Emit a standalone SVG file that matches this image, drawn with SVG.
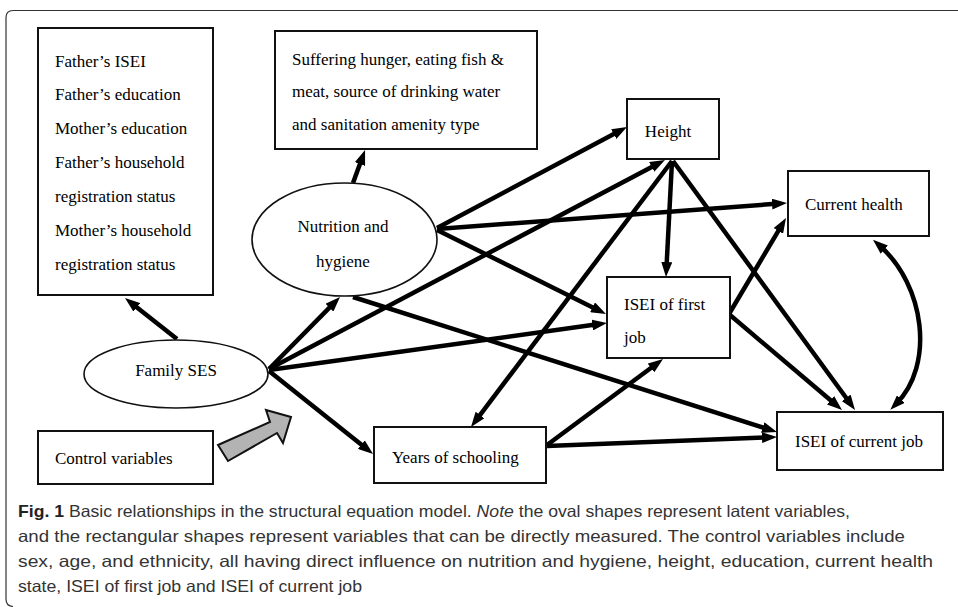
<svg xmlns="http://www.w3.org/2000/svg" width="958" height="607" viewBox="0 0 958 607">
<style>
.bg{fill:#ffffff}
.frame{fill:none;stroke:#333;stroke-width:1.2}
.box{fill:#fff;stroke:#111;stroke-width:2}
.oval{fill:#fff;stroke:#111;stroke-width:1.6}
.t{font-family:"Liberation Serif","Times New Roman",serif;font-size:17px;fill:#000}
.c{text-anchor:middle}
.cap{font-family:"Liberation Sans Narrow","Liberation Sans",Arial,sans-serif;font-size:16.5px;fill:#333}
.conn{fill:none;stroke:#000;stroke-width:4.5;marker-end:url(#ah)}
</style>
<defs>
<marker id="ah" viewBox="0 0 15 11" markerWidth="15" markerHeight="11" refX="7" refY="5.5" orient="auto-start-reverse" markerUnits="userSpaceOnUse">
<path d="M0,0 L15,5.5 L0,11 z" fill="#000"/>
</marker>
</defs>
<rect class="bg" x="0" y="0" width="958" height="607"/>
<path class="frame" d="M958 10.5 H13 Q6 10.5 6 17.5 V599 Q6 606 13 606.5"/>

<g id="connectors">
<line class="conn" x1="177" y1="339" x2="131.3" y2="303"/>
<line class="conn" x1="353" y1="183" x2="362.3" y2="157.5"/>
<line class="conn" x1="269" y1="369" x2="334.4" y2="302.7"/>
<line class="conn" x1="269" y1="369" x2="657.9" y2="163.7"/>
<line class="conn" x1="269" y1="370" x2="599.1" y2="324.1"/>
<line class="conn" x1="269" y1="371" x2="366.8" y2="449"/>
<line class="conn" x1="437" y1="228" x2="619.9" y2="130.8"/>
<line class="conn" x1="437" y1="229" x2="779" y2="203.6"/>
<line class="conn" x1="437" y1="230" x2="598.8" y2="310.4"/>
<line class="conn" x1="353" y1="297" x2="769.4" y2="429.6"/>
<line class="conn" x1="672" y1="161" x2="666.4" y2="269"/>
<line class="conn" x1="672" y1="161" x2="475.8" y2="420.6"/>
<line class="conn" x1="673" y1="161" x2="850.3" y2="403.5"/>
<line class="conn" x1="729" y1="314" x2="781.9" y2="224.9"/>
<line class="conn" x1="730" y1="315" x2="835.9" y2="404.8"/>
<line class="conn" x1="547" y1="445" x2="656.6" y2="363.8"/>
<line class="conn" x1="547" y1="446" x2="769" y2="437.3"/>
<path class="conn" d="M879 245 C925 285 935 365 896 404" style="marker-start:url(#ah)"/>
<polygon points="218,445 270,422 266,410 291,417 283,443 277,433 228,461" fill="#b3b3b3" stroke="#111" stroke-width="2" stroke-linejoin="miter"/>
</g>

<g id="parents-box" font-family="Liberation Serif, serif">
<rect class="box" x="38" y="28" width="175" height="267"/>
<text class="t" x="55" y="67">Father’s ISEI</text>
<text class="t" x="55" y="100">Father’s education</text>
<text class="t" x="55" y="134">Mother’s education</text>
<text class="t" x="55" y="168">Father’s household</text>
<text class="t" x="55" y="202">registration status</text>
<text class="t" x="55" y="236">Mother’s household</text>
<text class="t" x="55" y="270">registration status</text>
</g>

<g id="nutrition-box">
<rect class="box" x="275" y="31" width="262" height="118"/>
<text class="t" x="292" y="65">Suffering hunger, eating fish &amp;</text>
<text class="t" x="292" y="97">meat, source of drinking water</text>
<text class="t" x="292" y="130">and sanitation amenity type</text>
</g>

<g id="nutrition">
<ellipse class="oval" cx="344.5" cy="239.5" rx="92.5" ry="56.5"/>
<text class="t c" x="343" y="232">Nutrition and</text>
<text class="t c" x="343" y="267">hygiene</text>
</g>

<g id="family-ses">
<ellipse class="oval" cx="176" cy="374" rx="92" ry="34"/>
<text class="t c" x="176" y="376">Family SES</text>
</g>

<g id="control">
<rect class="box" x="38" y="431" width="175" height="53"/>
<text class="t" x="55" y="464">Control variables</text>
</g>

<g id="height">
<rect class="box" x="627" y="99" width="92" height="60"/>
<text class="t c" x="668" y="137">Height</text>
</g>

<g id="current-health">
<rect class="box" x="788" y="171" width="141" height="65"/>
<text class="t" x="805" y="210">Current health</text>
</g>

<g id="isei-first">
<rect class="box" x="607" y="277" width="123" height="81"/>
<text class="t" x="624" y="310">ISEI of first</text>
<text class="t" x="624" y="343">job</text>
</g>

<g id="years">
<rect class="box" x="374" y="427" width="172" height="56"/>
<text class="t" x="392" y="463">Years of schooling</text>
</g>

<g id="isei-current">
<rect class="box" x="777" y="412" width="166" height="58"/>
<text class="t" x="795" y="447">ISEI of current job</text>
</g>

<g id="caption">
<text class="cap" x="18" y="517" textLength="832" lengthAdjust="spacingAndGlyphs"><tspan font-weight="bold" fill="#222">Fig. 1</tspan>  Basic relationships in the structural equation model. <tspan font-style="italic">Note</tspan> the oval shapes represent latent variables,</text>
<text class="cap" x="18" y="542" textLength="887" lengthAdjust="spacingAndGlyphs">and the rectangular shapes represent variables that can be directly measured. The control variables include</text>
<text class="cap" x="18" y="567" textLength="915" lengthAdjust="spacingAndGlyphs">sex, age, and ethnicity, all having direct influence on nutrition and hygiene, height, education, current health</text>
<text class="cap" x="18" y="592" textLength="344" lengthAdjust="spacingAndGlyphs">state, ISEI of first job and ISEI of current job</text>
</g>
</svg>
